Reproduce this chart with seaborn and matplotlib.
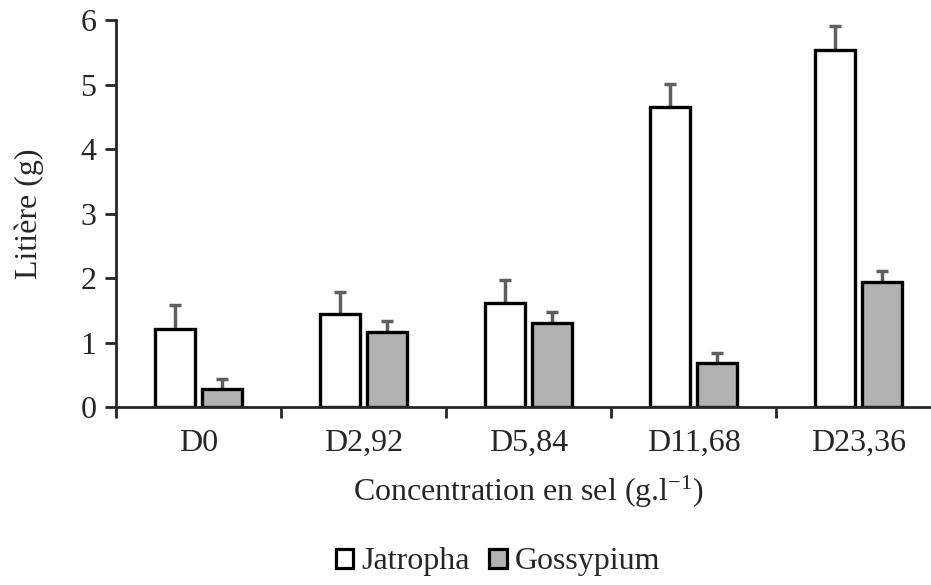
import numpy as np
import pandas as pd
import matplotlib
matplotlib.use("Agg")
import matplotlib.pyplot as plt
import seaborn as sns

# data
doses = ["D0", "D2,92", "D5,84", "D11,68", "D23,36"]
jatropha = [1.21, 1.44, 1.61, 4.65, 5.53]
jatropha_err = [0.37, 0.34, 0.36, 0.36, 0.37]
gossypium = [0.28, 1.17, 1.31, 0.68, 1.94]
gossypium_err = [0.16, 0.16, 0.16, 0.16, 0.17]

df = pd.DataFrame({
    "dose": doses * 2,
    "litiere": jatropha + gossypium,
    "espece": ["Jatropha"] * len(doses) + ["Gossypium"] * len(doses),
})

sns.set_style("ticks")
plt.rcParams["font.family"] = ["Liberation Serif", "DejaVu Serif"]
plt.rcParams["mathtext.default"] = "regular"

fig = plt.figure(figsize=(9.31, 5.85), dpi=100)
ax = fig.add_axes([116 / 931, 178 / 585, 825 / 931, 387 / 585])

sns.barplot(data=df, x="dose", y="litiere", hue="espece",
            palette={"Jatropha": "white", "Gossypium": "#B2B2B2"},
            edgecolor="black", linewidth=2.4, width=0.57, gap=0.17,
            errorbar=None, legend=False, ax=ax)

# upper error bars only
for cont, err in zip(ax.containers, [jatropha_err, gossypium_err]):
    xs = [p.get_x() + p.get_width() / 2 for p in cont.patches]
    ys = [p.get_height() for p in cont.patches]
    _, caps, _ = ax.errorbar(xs, ys, yerr=[np.zeros(len(err)), err], fmt="none",
                             ecolor="#5f5f5f", elinewidth=2.5, capsize=4.5,
                             capthick=2.5, zorder=0.5)
    for c in caps:
        if np.allclose(c.get_ydata(), ys):
            c.set_visible(False)

ax.set_ylim(0, 6)
ax.set_yticks(range(0, 7))
ax.set_xlim(-0.5, 4.5)
ax.set_xticks(np.arange(-0.5, 5, 1), minor=True)
ax.tick_params(axis="x", which="major", length=0, labelsize=23, pad=16)
ax.tick_params(axis="x", which="minor", length=8, width=2, direction="out")
ax.tick_params(axis="y", length=8, width=2, direction="out", labelsize=23, pad=6)
for s in ["left", "bottom"]:
    ax.spines[s].set_linewidth(2)
sns.despine(ax=ax)
ax.spines["bottom"].set_zorder(5)

ax.set_xlabel(r"Concentration en sel (g.l$^{-1}$)", fontsize=23, labelpad=11)
ax.set_ylabel("Litière (g)", fontsize=23, labelpad=26)

handles = [plt.Rectangle((0, 0), 1, 1, facecolor="white", edgecolor="black", linewidth=2.3),
           plt.Rectangle((0, 0), 1, 1, facecolor="#B2B2B2", edgecolor="black", linewidth=2.3)]
fig.legend(handles, ["Jatropha", "Gossypium"], loc="center",
           bbox_to_anchor=(498 / 931, 1 - 562 / 585), ncol=2, frameon=False,
           fontsize=23, handlelength=0.55, handleheight=0.55,
           handletextpad=0.25, columnspacing=0.6)

fig.savefig("out.png", dpi=100)
